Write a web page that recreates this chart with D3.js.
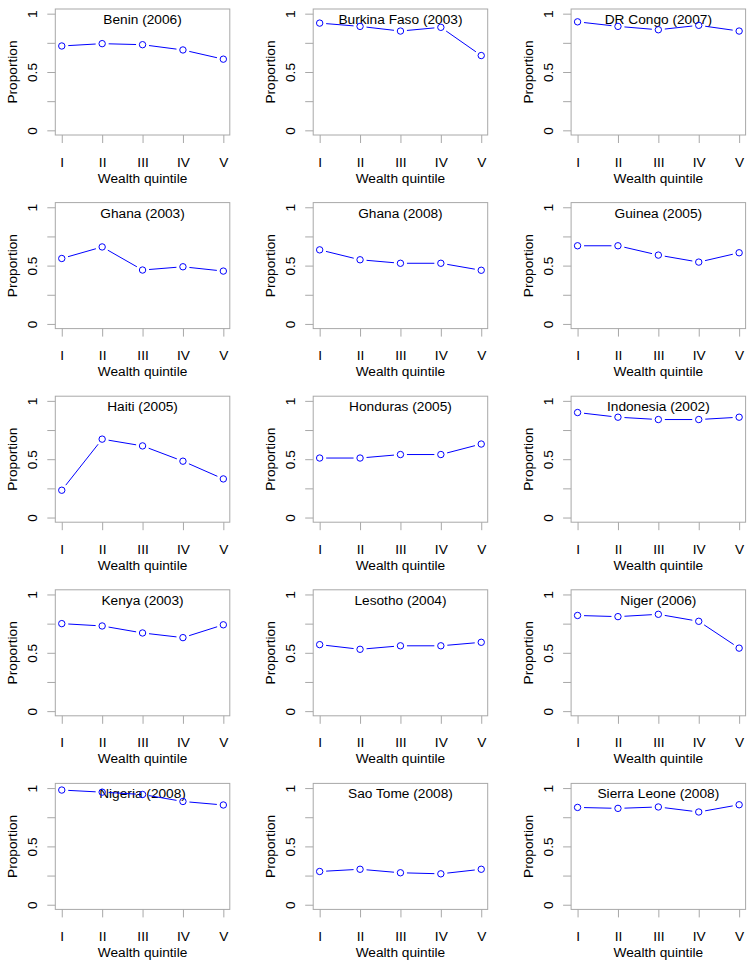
<!DOCTYPE html>
<html>
<head>
<meta charset="utf-8">
<script src="https://cdn.jsdelivr.net/npm/d3@7"></script>
<style>
html,body{margin:0;padding:0;background:#fff;}
svg text{font-family:"Liberation Sans",Arial,sans-serif;}
</style>
</head>
<body>
<svg id="chart" width="755" height="968"></svg>
<script>
const quintiles = ["I","II","III","IV","V"];
const titles = ["Benin (2006)","Burkina Faso (2003)","DR Congo (2007)",
  "Ghana (2003)","Ghana (2008)","Guinea (2005)",
  "Haiti (2005)","Honduras (2005)","Indonesia (2002)",
  "Kenya (2003)","Lesotho (2004)","Niger (2006)",
  "Nigeria (2008)","Sao Tome (2008)","Sierra Leone (2008)"];
const benin = [0.723,0.743,0.734,0.689,0.610];
const burkina = [0.919,0.891,0.851,0.883,0.641];
const drcongo = [0.930,0.891,0.862,0.900,0.851];
const ghana2003 = [0.561,0.660,0.462,0.490,0.453];
const ghana2008 = [0.635,0.550,0.520,0.520,0.460];
const guinea = [0.670,0.670,0.590,0.530,0.610];
const haiti = [0.234,0.672,0.614,0.483,0.331];
const honduras = [0.510,0.510,0.540,0.540,0.630];
const indonesia = [0.900,0.860,0.840,0.840,0.860];
const kenya = [0.750,0.730,0.670,0.630,0.740];
const lesotho = [0.570,0.530,0.560,0.560,0.590];
const niger = [0.820,0.810,0.830,0.770,0.540];
const nigeria = [0.983,0.965,0.945,0.885,0.855];
const saotome = [0.285,0.304,0.274,0.265,0.304];
const sierraleone = [0.834,0.826,0.838,0.795,0.857];
const series = [benin,burkina,drcongo,ghana2003,ghana2008,guinea,haiti,honduras,indonesia,kenya,lesotho,niger,nigeria,saotome,sierraleone];
const yTicks = [0,0.25,0.5,0.75,1];
const yTickLabels = {0:"0",0.5:"0.5",1:"1"};
const xLabel = "Wealth quintile";
const yLabel = "Proportion";

const svg = d3.select("#chart");
const boxW = 174.5, boxH = 126;
const colX0 = 55.3, colStep = 257.9;
const rowY0 = 9, rowStep = 193.6;
const gray = "#a8a8a8";
const fs = "13.7px";

series.forEach((vals, i) => {
  const r = Math.floor(i / 3), c = i % 3;
  const left = colX0 + c * colStep, top = rowY0 + r * rowStep;
  const g = svg.append("g").attr("transform", `translate(${left},${top})`);
  const x = d3.scaleLinear().domain([0.84, 5.16]).range([0, boxW]);
  const y = d3.scaleLinear().domain([-0.04, 1.04]).range([boxH, 0]);

  g.append("rect").attr("x",0).attr("y",0).attr("width",boxW).attr("height",boxH)
    .attr("fill","none").attr("stroke",gray).attr("stroke-width",1);

  // y axis
  const ya = d3.axisLeft(y).tickValues(yTicks).tickSize(8).tickPadding(0)
    .tickFormat(d => "");
  const yg = g.append("g").call(ya);
  yg.select(".domain").remove();
  yg.selectAll(".tick line").attr("stroke", gray);
  yg.selectAll(".tick").each(function(d){
    if (yTickLabels[d] !== undefined) {
      d3.select(this).append("text")
        .attr("transform","translate(-18.6,0) rotate(-90)")
        .attr("text-anchor","middle").attr("fill","#000")
        .style("font-size",fs).text(yTickLabels[d]);
    }
  });

  // x axis
  const xa = d3.axisBottom(x).tickValues([1,2,3,4,5]).tickSize(8).tickPadding(0)
    .tickFormat(d => "");
  const xg = g.append("g").attr("transform",`translate(0,${boxH})`).call(xa);
  xg.select(".domain").remove();
  xg.selectAll(".tick line").attr("stroke", gray);
  xg.selectAll(".tick").append("text")
    .attr("y", 31.7).attr("text-anchor","middle").attr("fill","#000")
    .style("font-size",fs).text(d => quintiles[d-1]);

  g.append("text").attr("x", boxW/2).attr("y", boxH + 47.5)
    .attr("text-anchor","middle").style("font-size",fs).attr("fill","#000").text(xLabel);
  g.append("text").attr("transform",`translate(-38.6,${boxH/2}) rotate(-90)`)
    .attr("text-anchor","middle").style("font-size",fs).attr("fill","#000").text(yLabel);

  // title
  g.append("text").attr("x", boxW/2).attr("y", 15)
    .attr("text-anchor","middle").style("font-size",fs).attr("fill","#000").text(titles[i]);

  // type="b" lines with gaps
  const pts = vals.map((v,k) => [x(k+1), y(v)]);
  const gap = 6.5;
  for (let k = 0; k < pts.length - 1; k++) {
    const [x1,y1] = pts[k], [x2,y2] = pts[k+1];
    const dx = x2-x1, dy = y2-y1, len = Math.hypot(dx,dy);
    if (len <= 2*gap) continue;
    const ux = dx/len, uy = dy/len;
    g.append("line")
      .attr("x1", x1+ux*gap).attr("y1", y1+uy*gap)
      .attr("x2", x2-ux*gap).attr("y2", y2-uy*gap)
      .attr("stroke","#0000ff").attr("stroke-width",1);
  }
  g.selectAll("circle.pt").data(pts).enter().append("circle")
    .attr("class","pt").attr("cx",d=>d[0]).attr("cy",d=>d[1]).attr("r",3.2)
    .attr("fill","none").attr("stroke","#0000ff").attr("stroke-width",1);
});
</script>
</body>
</html>
